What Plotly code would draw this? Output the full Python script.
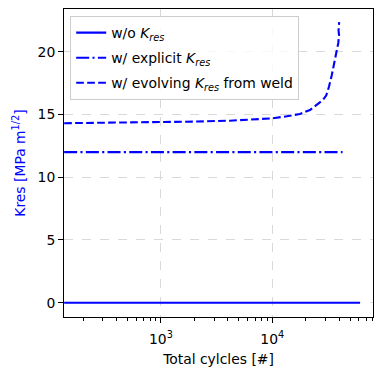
import plotly.graph_objects as go

# ---- data ----
cycles_none = [135, 61400]
kres_none = [0.0, 0.0]

cycles_explicit = [135, 42800]
kres_explicit = [12.0, 12.0]

cycles_weld = [135, 400, 1000, 2000, 4170, 6300, 10000, 13500, 17700, 21800, 25900,
               28500, 30500, 32300, 34200, 36100, 37900, 39200, 39800, 39400, 39900]
kres_weld = [14.3, 14.33, 14.37, 14.43, 14.5, 14.58, 14.69, 14.85, 15.04, 15.35, 15.83,
             16.15, 16.5, 17.2, 18.1, 19.05, 20.0, 20.7, 21.3, 21.7, 22.35]

y_ticks = [0, 5, 10, 15, 20]
x_major = [1e3, 1e4]
x_major_text = ["10<sup>3</sup>", "10<sup>4</sup>"]
x_minor = [m * 10 ** e for e in (2, 3, 4) for m in range(2, 10)]

BLUE = "#0000ff"
FONT = "DejaVu Sans"
FS = 13.9

fig = go.Figure()
fig.add_trace(go.Scatter(x=cycles_none, y=kres_none, mode="lines", legendgroup="a",
                         line=dict(color=BLUE, width=2.1),
                         name="w/o <i>K</i><sub><i>res</i></sub>"))
fig.add_trace(go.Scatter(x=cycles_explicit, y=kres_explicit, mode="lines", legendgroup="b",
                         line=dict(color=BLUE, width=2.1, dash="13px,3.3px,2.1px,3.3px"),
                         name="w/ explicit <i>K</i><sub><i>res</i></sub>"))
fig.add_trace(go.Scatter(x=cycles_weld, y=kres_weld, mode="lines", legendgroup="c",
                         line=dict(color=BLUE, width=2.1, dash="7.7px,3.3px"),
                         name="w/ evolving <i>K</i><sub><i>res</i></sub> from weld"))

axis_common = dict(showline=True, mirror=True, linecolor="black", linewidth=1.1,
                   ticks="outside", ticklen=4.9, tickwidth=1.1, tickcolor="black",
                   showgrid=True, gridcolor="#d9d9d9", griddash="dash", gridwidth=0.8,
                   zeroline=False, automargin=False,
                   tickfont=dict(family=FONT, size=FS, color="black"))

fig.update_xaxes(type="log", range=[2.129, 4.905],
                 tickmode="array", tickvals=x_major, ticktext=x_major_text,
                 ticklabelstandoff=4,
                 minor=dict(tickmode="array", tickvals=x_minor, ticks="outside",
                            ticklen=2.8, tickwidth=0.8, tickcolor="black", showgrid=False),
                 title=dict(text="Total cylcles [#]", font=dict(family=FONT, size=FS, color="black"),
                            standoff=8),
                 **axis_common)
fig.update_yaxes(range=[-1.14, 23.4], tickmode="array", tickvals=y_ticks,
                 title=dict(text="Kres [MPa m<sup>1/2</sup>]",
                            font=dict(family=FONT, size=FS, color=BLUE), standoff=8),
                 **axis_common)

fig.update_layout(
    width=382, height=375,
    margin=dict(l=64, r=9, t=9, b=58, autoexpand=False),
    plot_bgcolor="white", paper_bgcolor="white",
    font=dict(family=FONT, size=FS, color="black"),
    legend=dict(x=0.02, y=0.977, xanchor="left", yanchor="top",
                bgcolor="rgba(255,255,255,0.8)", bordercolor="#cccccc", borderwidth=1,
                font=dict(family=FONT, size=FS, color="black"),
                tracegroupgap=4, itemwidth=30),
    showlegend=True,
)

fig.write_html("out.html", config={"displayModeBar": False},
               post_script="document.body.style.margin='0';document.body.style.padding='0';")
